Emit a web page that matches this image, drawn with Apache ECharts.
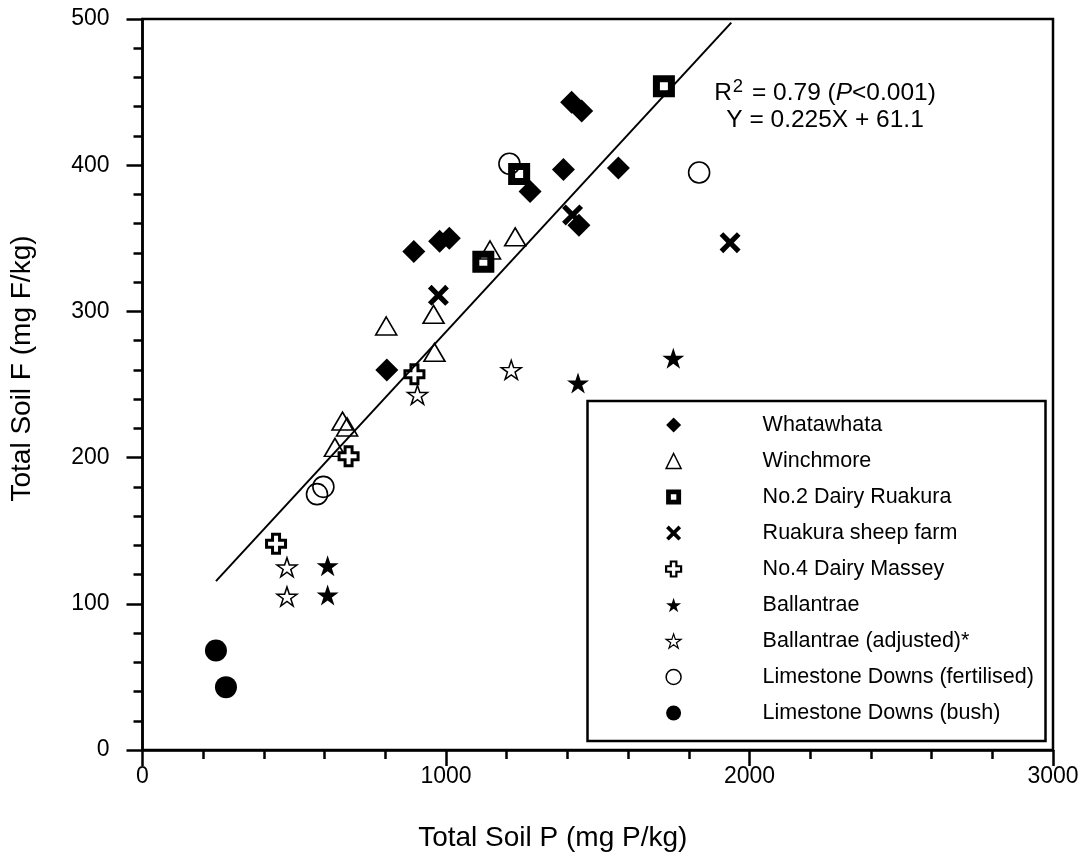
<!DOCTYPE html>
<html>
<head>
<meta charset="utf-8">
<script src="https://cdn.jsdelivr.net/npm/echarts@6/dist/echarts.min.js"></script>
<style>html,body{margin:0;padding:0;background:#fff}#c{width:1085px;height:861px}</style>
</head>
<body>
<div id="c"></div>
<script>
// ---- data ----
const seriesNames = ['Whatawhata', 'Winchmore', 'No.2 Dairy Ruakura', 'Ruakura sheep farm',
  'No.4 Dairy Massey', 'Ballantrae', 'Ballantrae (adjusted)*',
  'Limestone Downs (fertilised)', 'Limestone Downs (bush)'];

const whatawhataX = [894, 979, 1011, 805, 1414, 1447, 1387, 1568, 1277, 1438];
const whatawhataY = [341, 348, 350, 260, 443, 437, 397, 398, 382, 359];

const winchmoreX = [803, 959, 962, 1145, 1228, 659, 674, 634];
const winchmoreY = [290, 298, 272, 342, 351, 225, 221, 207];

const dairy2X = [1718, 1241, 1123];
const dairy2Y = [454, 394, 334];

const sheepX = [975, 1417, 1936];
const sheepY = [311, 366, 347];

const dairy4X = [896, 679, 440];
const dairy4Y = [257, 201, 141];

const ballantraeX = [1749, 1435, 610, 610];
const ballantraeY = [268, 251, 126, 106];

const ballAdjX = [906, 1215, 476, 476];
const ballAdjY = [243, 260, 125, 105];

const limeFertX = [1209, 1834, 596, 575];
const limeFertY = [401, 395, 180, 175];

const limeBushX = [242, 275];
const limeBushY = [68, 43];

// regression line end points
const fitX = [242, 1940];
const fitY = [115.5, 497.5];

const xTicks = [0, 1000, 2000, 3000];
const yTicks = [0, 100, 200, 300, 400, 500];

// ---- helpers ----
const zip = (xs, ys) => xs.map((x, i) => [x, ys[i]]);
const FONT = '"Liberation Sans", Arial, sans-serif';
const BLACK = '#000';

const SQUARE_HOLE = 'path://M0,0L22,0L22,22L0,22Z M7,7L7,15L15,15L15,7Z';
const XMARK = 'path://M0,3.5L3.5,0L10,6.5L16.5,0L20,3.5L13.5,10L20,16.5L16.5,20L10,13.5L3.5,20L0,16.5L6.5,10Z';
const PLUS = 'path://M6,0L13,0L13,6L19,6L19,13L13,13L13,19L6,19L6,13L0,13L0,6L6,6Z';
const STAR = 'path://M50,0L61.23,34.55L97.55,34.55L68.16,55.9L79.39,90.45L50,69.1L20.61,90.45L31.84,55.9L2.45,34.55L38.77,34.55Z';

const filled = { color: BLACK, borderWidth: 0 };
const open = (w) => ({ color: 'rgba(255,255,255,0)', borderColor: BLACK, borderWidth: w });

const defs = [
  { name: seriesNames[0], data: zip(whatawhataX, whatawhataY), symbol: 'diamond', size: 23, style: filled, legendStyle: filled },
  { name: seriesNames[1], data: zip(winchmoreX, winchmoreY), symbol: 'triangle', size: [21, 18], style: open(1.6), legendStyle: open(1.5) },
  { name: seriesNames[2], data: zip(dairy2X, dairy2Y), symbol: SQUARE_HOLE, size: 22, style: filled, legendStyle: filled },
  { name: seriesNames[3], data: zip(sheepX, sheepY), symbol: XMARK, size: 21, style: filled, legendStyle: filled },
  { name: seriesNames[4], data: zip(dairy4X, dairy4Y), symbol: PLUS, size: 19, style: { color: '#fff', borderColor: BLACK, borderWidth: 3 }, legendStyle: { color: '#fff', borderColor: BLACK, borderWidth: 2.2 } },
  { name: seriesNames[5], data: zip(ballantraeX, ballantraeY), symbol: STAR, size: [22, 21], style: filled, legendStyle: filled },
  { name: seriesNames[6], data: zip(ballAdjX, ballAdjY), symbol: STAR, size: [20, 19], style: open(1.5), legendStyle: open(1.2) },
  { name: seriesNames[7], data: zip(limeFertX, limeFertY), symbol: 'circle', size: 21, style: open(1.6), legendStyle: open(1.5) },
  { name: seriesNames[8], data: zip(limeBushX, limeBushY), symbol: 'circle', size: 22, style: filled, legendStyle: filled }
];

const scatterSeries = defs.map((d, i) => ({
  name: d.name,
  type: 'scatter',
  data: d.data,
  symbol: d.symbol,
  symbolSize: d.size,
  itemStyle: Object.assign({ opacity: 1 }, d.style),
  emphasis: { disabled: true },
  z: 3 + i * 0.01,
  silent: true
}));

const TICK_FS = 23;
const TITLE_FS = 28;
const LEGEND_FS = 21.5;
const NOTE_FS = 24.5;

const axisCommon = {
  axisLine: { show: true, onZero: false, lineStyle: { color: BLACK, width: 2.5 } },
  axisTick: { show: true, inside: false, length: 16, lineStyle: { color: BLACK, width: 2.5 } },
  minorTick: { show: true, splitNumber: 5, length: 9, lineStyle: { color: BLACK, width: 2.5 } },
  splitLine: { show: false },
  minorSplitLine: { show: false },
  nameLocation: 'middle',
  nameMoveOverlap: false
};

const option = {
  animation: false,
  backgroundColor: '#fff',
  grid: {
    left: 142.5, right: 32, top: 19, bottom: 111,
    show: true, borderColor: BLACK, borderWidth: 2.5,
    containLabel: false, outerBoundsMode: 'none'
  },
  xAxis: Object.assign({}, axisCommon, {
    type: 'value', min: xTicks[0], max: xTicks[xTicks.length - 1], interval: 1000,
    name: 'Total Soil P (mg P/kg)', nameGap: 74,
    nameTextStyle: { color: BLACK, fontSize: TITLE_FS, fontFamily: FONT, padding: [0, 90, 0, 0] },
    axisLabel: { color: BLACK, fontSize: TICK_FS, fontFamily: FONT, margin: 15, hideOverlap: false,
      showMinLabel: true, showMaxLabel: true, formatter: v => String(v) }
  }),
  yAxis: Object.assign({}, axisCommon, {
    type: 'value', min: yTicks[0], max: yTicks[yTicks.length - 1], interval: 100,
    name: 'Total Soil F (mg F/kg)', nameGap: 106,
    nameTextStyle: { color: BLACK, fontSize: TITLE_FS, fontFamily: FONT, padding: [0, 0, 0, 32] },
    axisLabel: { color: BLACK, fontSize: TICK_FS, fontFamily: FONT, margin: 33, hideOverlap: false,
      showMinLabel: true, showMaxLabel: true, formatter: v => String(v) }
  }),
  legend: {
    show: true,
    orient: 'vertical',
    align: 'left',
    left: 665,
    top: 414,
    padding: 0,
    itemWidth: 15,
    itemHeight: 15,
    itemGap: 14,
    selectedMode: false,
    symbolKeepAspect: true,
    textStyle: { color: BLACK, fontSize: LEGEND_FS, fontFamily: FONT, padding: [0, 0, 0, 76.5] },
    data: defs.map(d => ({ name: d.name, icon: d.symbol, itemStyle: Object.assign({ opacity: 1 }, d.legendStyle) }))
  },
  graphic: [
    {
      type: 'rect', silent: true, z: 50,
      shape: { x: 587.5, y: 401, width: 458, height: 340 },
      style: { fill: 'rgba(0,0,0,0)', stroke: BLACK, lineWidth: 2.5 }
    },
    {
      type: 'text', silent: true, z: 50,
      x: 825, y: 79,
      style: {
        text: '{n|R}{sup|2}{n| = 0.79 (}{it|P}{n|<0.001)}\n{n|Y = 0.225X + 61.1}',
        align: 'center',
        fill: BLACK,
        rich: {
          n: { fontSize: NOTE_FS, fontFamily: FONT, lineHeight: 27, verticalAlign: 'bottom', fill: BLACK },
          it: { fontSize: NOTE_FS, fontFamily: FONT, fontStyle: 'italic', lineHeight: 27, verticalAlign: 'bottom', fill: BLACK },
          sup: { fontSize: 18.5, fontFamily: FONT, lineHeight: 17, verticalAlign: 'bottom', padding: [0, 2, 10, 1], fill: BLACK }
        }
      }
    }
  ],
  series: scatterSeries.concat([{
    name: 'fit',
    type: 'line',
    data: zip(fitX, fitY),
    symbol: 'none',
    lineStyle: { color: BLACK, width: 2 },
    silent: true,
    z: 10
  }])
};

const chart = echarts.init(document.getElementById('c'), null, { renderer: 'canvas' });
chart.setOption(option);
</script>
</body>
</html>
